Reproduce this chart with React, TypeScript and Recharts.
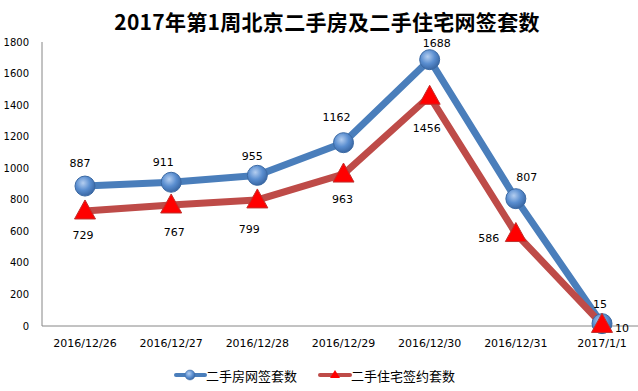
import React from 'react';
import { LineChart, Line, XAxis, YAxis, LabelList } from 'recharts';

const dates = ['2016/12/26', '2016/12/27', '2016/12/28', '2016/12/29', '2016/12/30', '2016/12/31', '2017/1/1'];
const secondHand = [887, 911, 955, 1162, 1688, 807, 15];
const residential = [729, 767, 799, 963, 1456, 586, 10];
const yTicks = [0, 200, 400, 600, 800, 1000, 1200, 1400, 1600, 1800];

const blueName = '二手房网签套数';
const redName = '二手住宅签约套数';

const data = dates.map((d, i) => ({ date: d, a: secondHand[i], b: residential[i] }));

const BLUE = '#4A7EBB';
const RED = '#BE4B48';
const labelFont = '"DejaVu Sans", Verdana, sans-serif';

// label offsets (text centre relative to the point), like Excel placed them
const blueOffsets = [[-5, -23], [-8, -20], [-5, -19], [-7, -25], [7, -16], [11, -21], [-2, -19]];
const redOffsets = [[-2, 25], [3, 28], [-8, 30], [-1, 25], [-3, 32], [-27, 5], [20, 4]];

const BlueDot = (props: any) => {
  const { cx, cy, index } = props;
  return <circle key={'bd' + index} cx={cx} cy={cy} r={10} fill="url(#blueBall)" stroke="#3B69A3" strokeWidth={1} />;
};

const RedDot = (props: any) => {
  const { cx, cy, index } = props;
  const pts = `${cx},${cy - 11} ${cx - 10.5},${cy + 8} ${cx + 10.5},${cy + 8}`;
  return <polygon key={'rd' + index} points={pts} fill="#FF0000" stroke="#C0302C" strokeWidth={1} />;
};

const makeLabel = (offsets: number[][]) => (props: any) => {
  const { x, y, value, index } = props;
  const [dx, dy] = offsets[index] || [0, -20];
  return (
    <text x={x + dx} y={y + dy} textAnchor="middle" dominantBaseline="central" fontSize={11} fontFamily={labelFont} fill="#000">
      {value}
    </text>
  );
};

const LegendBar = () => (
  <svg width={638} height={24} style={{ position: 'absolute', left: 0, top: 363 }}>
    <line x1={176} y1={12} x2={205} y2={12} stroke={BLUE} strokeWidth={4} strokeLinecap="round" />
    <circle cx={190} cy={12} r={5} fill="url(#blueBallLeg)" stroke="#3B69A3" strokeWidth={0.5} />
    <defs>
      <radialGradient id="blueBallLeg" cx="40%" cy="35%" r="65%">
        <stop offset="0%" stopColor="#B4CEF0" />
        <stop offset="60%" stopColor="#5A8ED0" />
        <stop offset="100%" stopColor="#3A68A5" />
      </radialGradient>
    </defs>
    <text x={206} y={12} dominantBaseline="central" fontSize={13} fontFamily='"Noto Sans CJK SC", sans-serif' fill="#000">{blueName}</text>
    <line x1={320} y1={12} x2={350} y2={12} stroke={RED} strokeWidth={4} strokeLinecap="round" />
    <polygon points="335,7 330,15 340,15" fill="#FF0000" />
    <text x={351} y={12} dominantBaseline="central" fontSize={13} fontFamily='"Noto Sans CJK SC", sans-serif' fill="#000">{redName}</text>
  </svg>
);

export default function App() {
  return (
    <div style={{ position: 'absolute', left: 0, top: 0, width: 638, height: 391, background: '#fff', overflow: 'hidden' }}>
      <div
        style={{
          position: 'absolute', left: 0, top: 10, width: 654, textAlign: 'center',
          fontFamily: '"Noto Sans CJK SC", sans-serif', fontWeight: 'bold', fontSize: 21, lineHeight: '23px',
          letterSpacing: 0.3, color: '#000',
        }}
      >
        2017年第1周北京二手房及二手住宅网签套数
      </div>
      <LineChart width={638} height={391} data={data} margin={{ top: 42, right: 0, left: 0, bottom: 35 }}>
        <defs>
          <radialGradient id="blueBall" cx="40%" cy="35%" r="65%">
            <stop offset="0%" stopColor="#B4CEF0" />
            <stop offset="55%" stopColor="#5A8ED0" />
            <stop offset="100%" stopColor="#3A68A5" />
          </radialGradient>
        </defs>
        <XAxis
          dataKey="date"
          height={30}
          padding={{ left: 43, right: 36 }}
          axisLine={{ stroke: '#868686' }}
          tickLine={false}
          tickSize={6}
          tickMargin={7}
          tick={{ fill: '#000', fontSize: 11, fontFamily: labelFont }}
          interval={0}
        />
        <YAxis
          width={42}
          domain={[0, 1800]}
          ticks={yTicks}
          axisLine={{ stroke: '#868686' }}
          tickLine={false}
          tickSize={6}
          tickMargin={7}
          tick={{ fill: '#000', fontSize: 10, fontFamily: labelFont }}
        />
        <Line
          dataKey="a"
          name={blueName}
          stroke={BLUE}
          strokeWidth={7}
          dot={BlueDot}
          activeDot={false}
          isAnimationActive={false}
        >
          <LabelList dataKey="a" content={makeLabel(blueOffsets)} />
        </Line>
        <Line
          dataKey="b"
          name={redName}
          stroke={RED}
          strokeWidth={7}
          dot={RedDot}
          activeDot={false}
          isAnimationActive={false}
        >
          <LabelList dataKey="b" content={makeLabel(redOffsets)} />
        </Line>
      </LineChart>
      <LegendBar />
    </div>
  );
}
